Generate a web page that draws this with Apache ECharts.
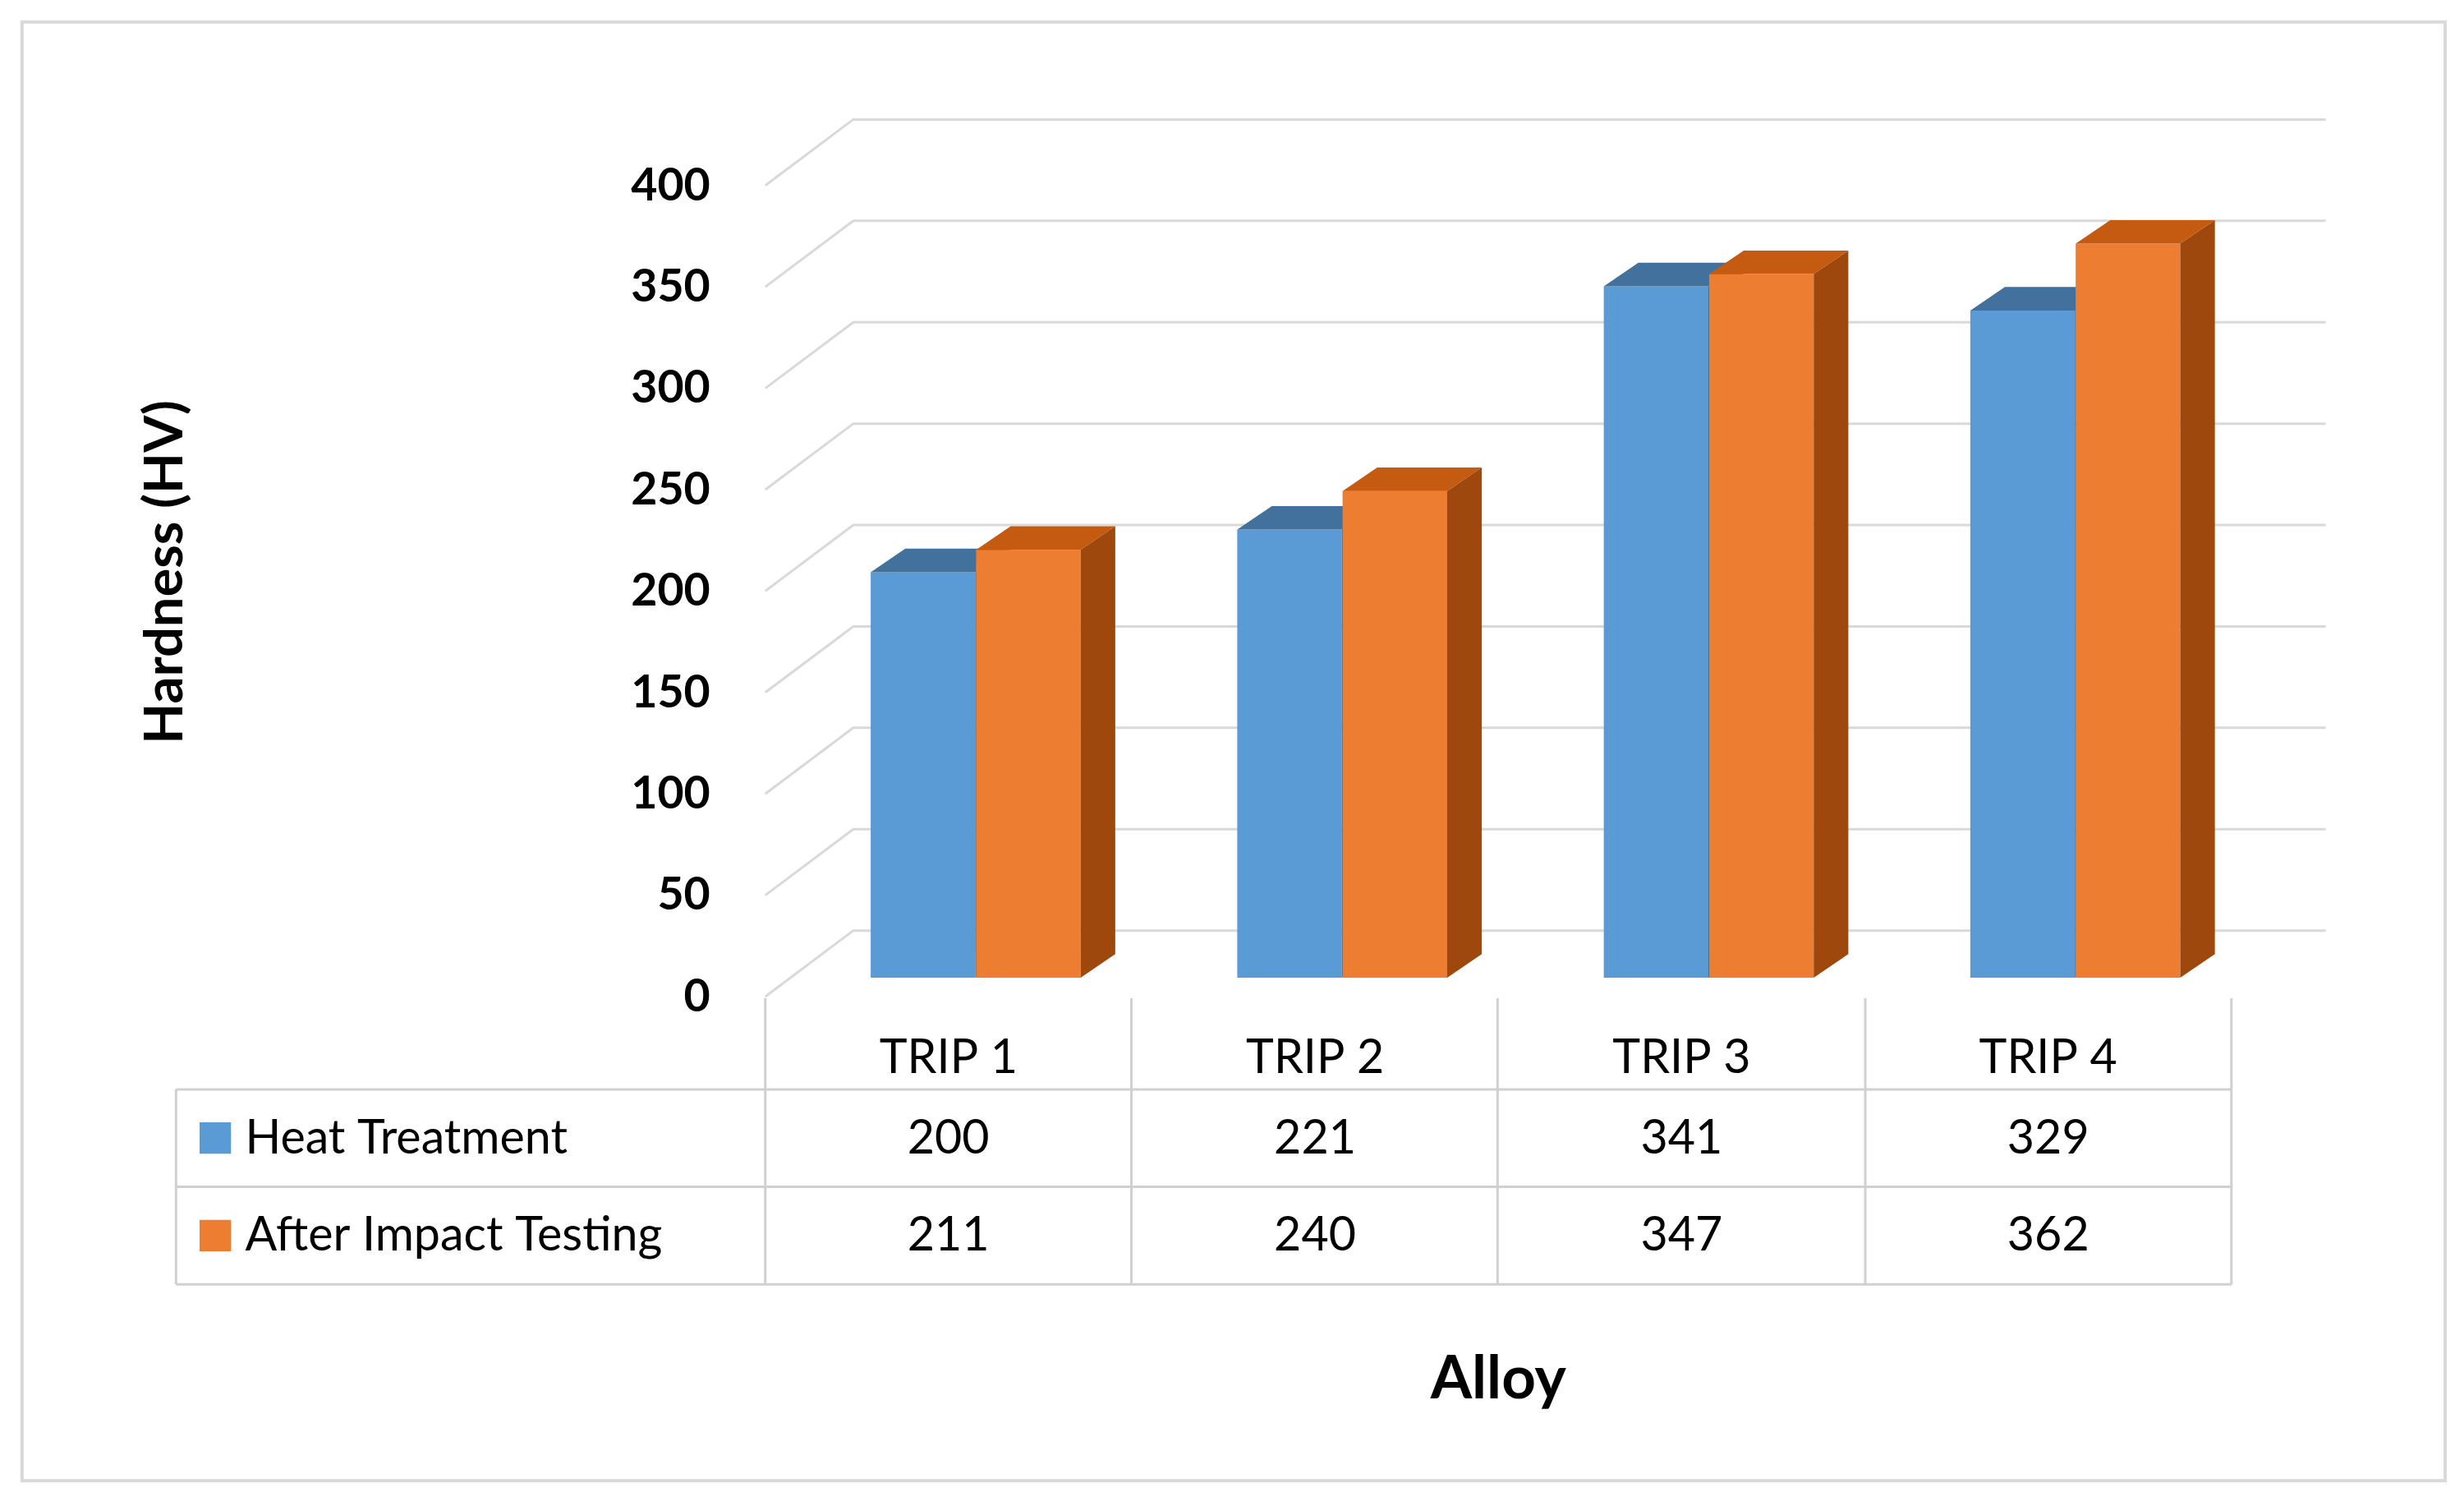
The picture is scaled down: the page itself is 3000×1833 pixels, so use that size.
<!DOCTYPE html>
<html>
<head>
<meta charset="utf-8">
<script src="https://cdn.jsdelivr.net/npm/echarts@6/dist/echarts.min.js"></script>
<style>html,body{margin:0;padding:0;background:#fff}#chart{width:3000px;height:1833px}</style>
</head>
<body>
<div id="chart"></div>
<script>
var categories = ['TRIP 1', 'TRIP 2', 'TRIP 3', 'TRIP 4'];
var heatTreatment = [200, 221, 341, 329];
var afterImpact = [211, 240, 347, 362];
var seriesNames = ['Heat Treatment', 'After Impact Testing'];
var yTicks = [0, 50, 100, 150, 200, 250, 300, 350, 400];

var S = 3000 / 1568;
function px(v) { return v * S; }
var FONT = 'Lato, "Liberation Sans", sans-serif';
var faces = [
    { front: '#5B9BD5', top: '#41719C', side: '#3A6A96' },
    { front: '#ED7D31', top: '#C55A11', side: '#9E480E' }
];
var gridLeft = px(487), gridRight = 3000 - px(1420);
var gridTop = px(106), gridBottom = 1833 - px(622);

function barItem(params, api) {
    var cat = api.value(0), val = api.value(1), s = api.value(2);
    var base = api.coord([cat, 0]);
    var top = api.coord([cat, val]);
    var bw = api.size([1, 0])[0];
    var x0 = base[0] + (s === 0 ? -0.2124 : 0.075) * bw;
    var w = 0.2854 * bw;
    var dx = 0.0944 * bw, dy = -px(15);
    var y0 = top[1], y1 = base[1];
    var c = faces[s];
    return {
        type: 'group',
        children: [
            { type: 'rect', shape: { x: x0, y: y0, width: w, height: y1 - y0 }, style: { fill: c.front } },
            { type: 'polygon', shape: { points: [[x0, y0], [x0 + dx, y0 + dy], [x0 + w + dx, y0 + dy], [x0 + w, y0]] }, style: { fill: c.top } },
            { type: 'polygon', shape: { points: [[x0 + w, y0], [x0 + w + dx, y0 + dy], [x0 + w + dx, y1 + dy], [x0 + w, y1]] }, style: { fill: c.side } }
        ]
    };
}

function gridItem(params, api) {
    var v = api.value(0);
    var p = api.coord([0, v]);
    var yf = p[1] + px(12);
    var xb = gridLeft + px(56), yb = p[1] - px(30);
    return {
        type: 'group',
        children: [
            { type: 'polyline', shape: { points: [[gridLeft, yf], [xb, yb], [gridRight + px(60) + (3000 - gridRight - gridRight) * 0 + (px(1480) - gridRight - px(60)), yb]] }, style: { stroke: '#d9d9d9', lineWidth: 3, fill: null } },
            { type: 'text', x: gridLeft - px(35), y: yf, style: { text: String(v), textAlign: 'right', textVerticalAlign: 'middle', font: 'bold ' + px(29) + 'px ' + FONT, fill: '#000' } }
        ]
    };
}

var barData = [];
categories.forEach(function (c, i) {
    barData.push([i, heatTreatment[i], 0]);
    barData.push([i, afterImpact[i], 1]);
});

// table drawn with graphic elements
var lineStyle = { stroke: '#d0d0d0', lineWidth: 3 };
var graphics = [
    { type: 'rect', shape: { x: px(14), y: px(14), width: px(1542), height: px(928) }, style: { fill: null, stroke: '#d9d9d9', lineWidth: 4 } }
];
[693, 755, 817].forEach(function (y) {
    graphics.push({ type: 'line', shape: { x1: px(112), y1: px(y), x2: px(1420), y2: px(y) }, style: lineStyle });
});
graphics.push({ type: 'line', shape: { x1: px(112), y1: px(693), x2: px(112), y2: px(817) }, style: lineStyle });
[487, 720, 953, 1187, 1420].forEach(function (x) {
    graphics.push({ type: 'line', shape: { x1: px(x), y1: px(635), x2: px(x), y2: px(817) }, style: lineStyle });
});
var rows = [heatTreatment, afterImpact];
var rowY = [724, 786];
rows.forEach(function (vals, r) {
    graphics.push({ type: 'rect', shape: { x: px(127), y: px(rowY[r] - 10), width: px(20), height: px(20) }, style: { fill: faces[r].front } });
    graphics.push({ type: 'text', x: px(156), y: px(rowY[r]), style: { text: seriesNames[r], textVerticalAlign: 'middle', font: px(30) + 'px ' + FONT, fill: '#000' } });
    vals.forEach(function (v, i) {
        graphics.push({ type: 'text', x: px(603.5 + 233.3 * i), y: px(rowY[r]), style: { text: String(v), textAlign: 'center', textVerticalAlign: 'middle', font: px(30) + 'px ' + FONT, fill: '#000' } });
    });
});

var myChart = echarts.init(document.getElementById('chart'));
var option = {
    backgroundColor: '#fff',
    animation: false,
    grid: { left: gridLeft, right: gridRight, top: gridTop, bottom: gridBottom },
    xAxis: {
        type: 'category',
        data: categories,
        axisLine: { show: false },
        axisTick: { show: false },
        axisLabel: { margin: px(36), fontSize: px(30), fontFamily: FONT, color: '#000' },
        name: 'Alloy',
        nameLocation: 'middle',
        nameGap: px(236),
        nameTextStyle: { fontSize: px(38), fontWeight: 'bold', fontFamily: FONT, color: '#000' }
    },
    yAxis: {
        type: 'value',
        min: 0,
        max: 400,
        interval: 50,
        axisLine: { show: false },
        axisTick: { show: false },
        axisLabel: { show: false },
        splitLine: { show: false },
        name: 'Hardness (HV)',
        nameLocation: 'middle',
        nameGap: px(365),
        nameTextStyle: { fontSize: px(34), fontWeight: 'bold', fontFamily: FONT, color: '#000' }
    },
    graphic: graphics,
    series: [
        { type: 'custom', renderItem: gridItem, data: yTicks.map(function (v) { return [v]; }), encode: { y: 0 }, z: 1, silent: true },
        { type: 'custom', renderItem: barItem, data: barData, encode: { x: 0, y: 1 }, z: 2 }
    ]
};
myChart.setOption(option);
</script>
</body>
</html>
